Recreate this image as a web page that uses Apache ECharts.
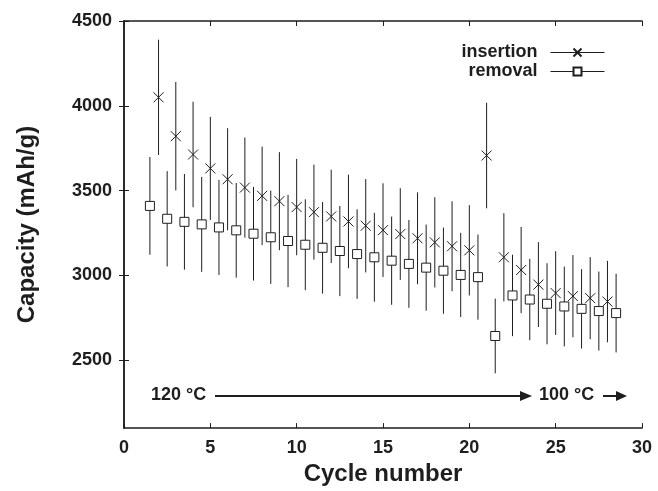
<!DOCTYPE html>
<html>
<head>
<meta charset="utf-8">
<script src="https://cdn.jsdelivr.net/npm/echarts@6/dist/echarts.min.js"></script>
<style>
html, body { margin: 0; padding: 0; background: #fff; }
#main { width: 658px; height: 491px; }
</style>
</head>
<body>
<div id="main"></div>
<script>
// cycle numbers and capacities (mAh/g)
var insCycles = [2, 3, 4, 5, 6, 7, 8, 9, 10, 11, 12, 13, 14, 15, 16, 17, 18, 19, 20, 21, 22, 23, 24, 25, 26, 27, 28];
var insCap = [4050, 3821, 3713, 3631, 3567, 3518, 3469, 3438, 3403, 3373, 3348, 3318, 3293, 3267, 3244, 3219, 3195, 3172, 3148, 3707, 3107, 3032, 2946, 2896, 2878, 2866, 2846];
var insErr = [340, 320, 311, 304, 301, 295, 290, 289, 284, 280, 275, 276, 275, 276, 270, 271, 266, 265, 266, 311, 260, 254, 250, 247, 242, 242, 240];

var remCycles = [1.5, 2.5, 3.5, 4.5, 5.5, 6.5, 7.5, 8.5, 9.5, 10.5, 11.5, 12.5, 13.5, 14.5, 15.5, 16.5, 17.5, 18.5, 19.5, 20.5, 21.5, 22.5, 23.5, 24.5, 25.5, 26.5, 27.5, 28.5];
var remCap = [3410, 3334, 3316, 3301, 3283, 3266, 3246, 3225, 3203, 3181, 3163, 3144, 3126, 3107, 3087, 3068, 3046, 3028, 3003, 2990, 2643, 2882, 2858, 2833, 2817, 2803, 2790, 2778];
var remErr = [288, 281, 282, 280, 280, 279, 276, 275, 272, 268, 270, 266, 264, 262, 260, 259, 254, 254, 248, 251, 220, 240, 240, 239, 235, 234, 233, 232];

var yTicks = [2500, 3000, 3500, 4000, 4500];

var FONT = '"Liberation Sans", Arial, sans-serif';
var INK = '#1e1e1e';

function pairs(xs, ys) {
    return xs.map(function (x, i) { return [x, ys[i]]; });
}
function bars(xs, ys, es) {
    return xs.map(function (x, i) { return [x, ys[i] - es[i], ys[i] + es[i]]; });
}

function errorBar(params, api) {
    var lo = api.coord([api.value(0), api.value(1)]);
    var hi = api.coord([api.value(0), api.value(2)]);
    return {
        type: 'line',
        shape: { x1: lo[0], y1: lo[1], x2: hi[0], y2: hi[1] },
        style: { stroke: INK, lineWidth: 1 }
    };
}

var myChart = echarts.init(document.getElementById('main'));

var axisLine = { show: true, lineStyle: { color: INK, width: 1.5 } };
var tick = { show: true, inside: true, length: 5, lineStyle: { color: INK, width: 1 } };
var yTick = { show: true, inside: true, length: 5, lineStyle: { color: INK, width: 1 }, customValues: yTicks };

var option = {
    backgroundColor: '#fff',
    animation: false,
    grid: { left: 124, right: 16, top: 21, bottom: 61, containLabel: false },
    legend: {
        data: ['insertion', 'removal'],
        orient: 'vertical',
        align: 'right',
        right: 48,
        top: 38,
        itemWidth: 54,
        itemHeight: 10,
        itemGap: 0,
        textStyle: { fontFamily: FONT, fontWeight: 'bold', fontSize: 18, color: INK, lineHeight: 19, padding: [0, 8, 0, 0] },
        lineStyle: { width: 1, color: INK, opacity: 1 },
        selectedMode: false
    },
    xAxis: [{
        type: 'value',
        min: 0,
        max: 30,
        interval: 5,
        name: 'Cycle number',
        nameLocation: 'middle',
        nameGap: 30,
        nameTextStyle: { fontFamily: FONT, fontWeight: 'bold', fontSize: 24, color: INK },
        axisLine: axisLine,
        axisTick: tick,
        splitLine: { show: false },
        axisLabel: { fontFamily: FONT, fontWeight: 'bold', fontSize: 18, color: INK, margin: 11 }
    }, {
        type: 'value',
        position: 'top',
        min: 0,
        max: 30,
        interval: 5,
        axisLine: axisLine,
        axisTick: tick,
        splitLine: { show: false },
        axisLabel: { show: false }
    }],
    yAxis: [{
        type: 'value',
        min: 2100,
        max: 4500,
        name: 'Capacity (mAh/g)',
        nameLocation: 'middle',
        nameGap: 85,
        nameTextStyle: { fontFamily: FONT, fontWeight: 'bold', fontSize: 24, color: INK },
        axisLine: axisLine,
        axisTick: yTick,
        splitLine: { show: false },
        axisLabel: {
            fontFamily: FONT, fontWeight: 'bold', fontSize: 18, color: INK, margin: 12,
            customValues: yTicks,
            formatter: function (v) { return String(v); }
        }
    }, {
        type: 'value',
        position: 'right',
        min: 2100,
        max: 4500,
        axisLine: axisLine,
        axisTick: yTick,
        splitLine: { show: false },
        axisLabel: { show: false }
    }],
    series: [{
        name: 'insertion-err',
        type: 'custom',
        renderItem: errorBar,
        data: bars(insCycles, insCap, insErr),
        encode: { x: 0, y: [1, 2] },
        z: 1,
        silent: true
    }, {
        name: 'removal-err',
        type: 'custom',
        renderItem: errorBar,
        data: bars(remCycles, remCap, remErr),
        encode: { x: 0, y: [1, 2] },
        z: 1,
        silent: true
    }, {
        name: 'insertion',
        type: 'line',
        data: pairs(insCycles, insCap),
        symbol: 'path://M0,0L10,10M10,0L0,10',
        symbolSize: 10,
        showAllSymbol: true,
        lineStyle: { width: 0 },
        itemStyle: { color: 'transparent', borderColor: INK, borderWidth: 1 },
        z: 3
    }, {
        name: 'removal',
        type: 'line',
        data: pairs(remCycles, remCap),
        symbol: 'rect',
        symbolSize: 9,
        showAllSymbol: true,
        lineStyle: { width: 0 },
        itemStyle: { color: '#fff', borderColor: INK, borderWidth: 1 },
        z: 3
    }],
    graphic: [
        { type: 'text', left: 151, top: 386, style: { text: '120 °C', font: 'bold 18px ' + FONT, fill: INK } },
        { type: 'line', shape: { x1: 215, y1: 396, x2: 522, y2: 396 }, style: { stroke: INK, lineWidth: 2 } },
        { type: 'polygon', shape: { points: [[520, 391], [532, 396], [520, 401]] }, style: { fill: INK } },
        { type: 'text', left: 539, top: 386, style: { text: '100 °C', font: 'bold 18px ' + FONT, fill: INK } },
        { type: 'line', shape: { x1: 603, y1: 396, x2: 618, y2: 396 }, style: { stroke: INK, lineWidth: 2 } },
        { type: 'polygon', shape: { points: [[616, 391], [627, 396], [616, 401]] }, style: { fill: INK } }
    ]
};
myChart.setOption(option);
</script>
</body>
</html>
